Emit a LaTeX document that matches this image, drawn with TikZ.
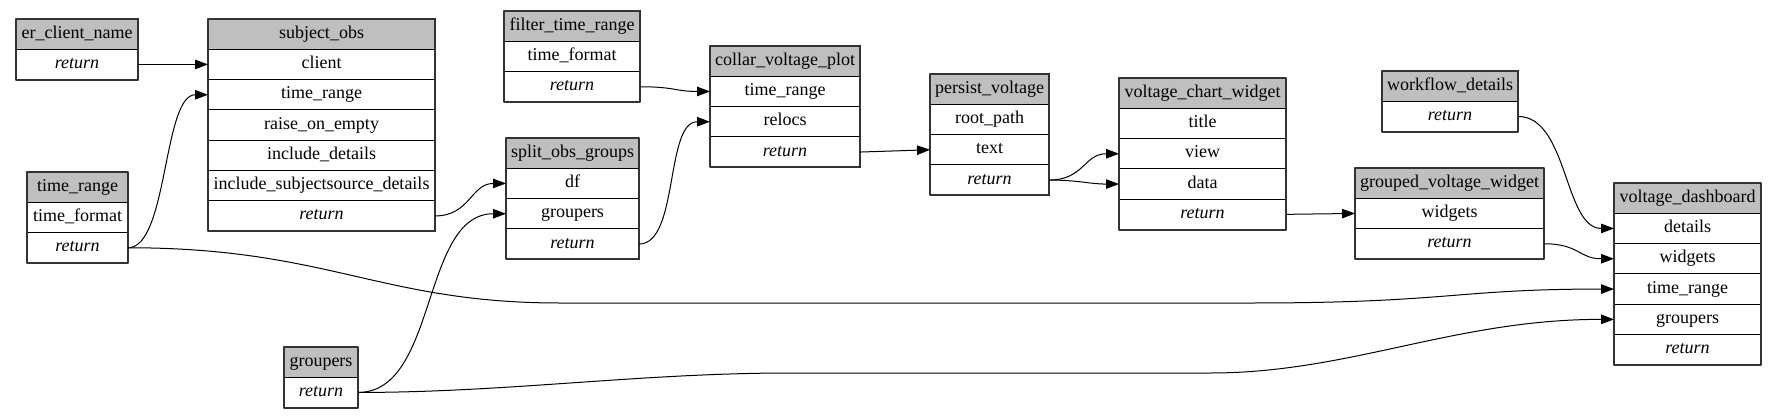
\documentclass[tikz,border=0pt]{standalone}
\usepackage{fontspec}
\setmainfont{Liberation Serif}
\usetikzlibrary{positioning,arrows.meta}

% one record: name, top left corner, width, title, rows (key/text)
\newcommand{\record}[5]{%
	\node[hdr, anchor=north west, minimum width=#3pt] (#1) at #2 {#4};
	\xdef\prevrow{#1}%
	\def\rows{#5}%
	\ifx\rows\empty\else
	\foreach \k/\lbl in {#5} {%
		\node[fld, minimum width=#3pt, below=0pt of \prevrow] (#1-\k) {\lbl};
		\xdef\prevrow{#1-\k}%
	}%
	\fi
	\node[fld, minimum width=#3pt, below=0pt of \prevrow] (#1-ret) {\itshape return};
	\draw[frame] (#1.north west) rectangle (#1-ret.south east);
}

\begin{document}
\begin{tikzpicture}[x=1pt, y=-1pt, font=\fontsize{18}{20}\selectfont, line join=round,
	hdr/.style={draw, line width=1pt, fill=lightgray, inner sep=0pt, outer sep=0pt,
		minimum height=30.3pt, text height=12pt, text depth=4pt},
	fld/.style={hdr, fill=white},
	frame/.style={draw=black!80, line width=2pt},
	conn/.style={line width=1pt, -{Triangle[length=13pt,width=9.5pt]}}]
	\useasboundingbox (0,0) rectangle (1777,420);
	%Các bảng.
	\record{er}{(16,19)}{122}{er\_client\_name}{}
	\record{subj}{(208,19)}{227}{subject\_obs}{cl/client, tr/time\_range, re/raise\_on\_empty, id/include\_details, is/include\_subjectsource\_details}
	\record{trange}{(27,172)}{101}{time\_range}{tf/time\_format}
	\record{groupers}{(284,347)}{74}{groupers}{}
	\record{filt}{(504,11)}{136}{filter\_time\_range}{tf/time\_format}
	\record{split}{(506,138)}{133}{split\_obs\_groups}{df/df, grp/groupers}
	\record{collar}{(710,46)}{150}{collar\_voltage\_plot}{tr/time\_range, rl/relocs}
	\record{persist}{(930,74)}{119}{persist\_voltage}{rp/root\_path, tx/text}
	\record{vcw}{(1119,78)}{167}{voltage\_chart\_widget}{ti/title, vw/view, da/data}
	\record{wflow}{(1382,71)}{136}{workflow\_details}{}
	\record{gvw}{(1355,168)}{189}{grouped\_voltage\_widget}{wd/widgets}
	\record{dash}{(1614,183)}{147}{voltage\_dashboard}{de/details, wd/widgets, tr/time\_range, grp/groupers}
	%Các mũi tên.
	\draw[conn] (er-ret.east) -- (subj-cl.west);
	\draw[conn] (trange-ret.east) .. controls +(40,0) and +(-45,0) .. (subj-tr.west);
	\draw[conn] (trange-ret.east) .. controls +(200,0) and +(-180,0) .. (560,303) -- (1250,303)
		.. controls +(200,0) and +(-160,0) .. (dash-tr.west);
	\draw[conn] (subj-ret.east) .. controls +(35,0) and +(-35,0) .. (split-df.west);
	\draw[conn] (groupers-ret.east) .. controls +(80,0) and +(-85,0) .. (split-grp.west);
	\draw[conn] (groupers-ret.east) .. controls +(150,0) and +(-150,0) .. (790,373) -- (1210,373)
		.. controls +(140,0) and +(-160,0) .. (dash-grp.west);
	\draw[conn] (filt-ret.east) .. controls +(35,0) and +(-35,0) .. (collar-tr.west);
	\draw[conn] (split-ret.east) .. controls +(40,0) and +(-45,0) .. (collar-rl.west);
	\draw[conn] (collar-ret.east) -- (persist-tx.west);
	\draw[conn] (persist-ret.east) .. controls +(35,0) and +(-35,0) .. (vcw-vw.west);
	\draw[conn] (persist-ret.east) .. controls +(30,0) and +(-30,0) .. (vcw-da.west);
	\draw[conn] (vcw-ret.east) -- (gvw-wd.west);
	\draw[conn] (wflow-ret.east) .. controls +(50,0) and +(-50,0) .. (dash-de.west);
	\draw[conn] (gvw-ret.east) .. controls +(35,0) and +(-35,0) .. (dash-wd.west);
\end{tikzpicture}
\end{document}
